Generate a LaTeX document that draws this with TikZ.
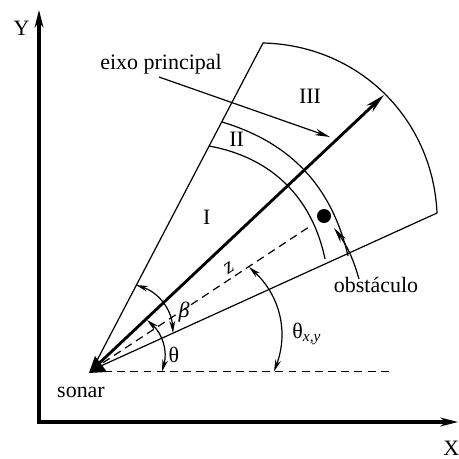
\documentclass[tikz,border=0pt]{standalone}
\usepackage{fontspec}
\setmainfont{Liberation Serif}
\usetikzlibrary{arrows.meta}

\begin{document}
\begin{tikzpicture}[scale=0.7344,
    axisline/.style={line width=1.8pt, line join=miter, {Stealth[length=8pt,width=4pt]}-{Stealth[length=8pt,width=4pt]}},
    beamline/.style={line width=0.55pt},
    guide/.style={line width=0.55pt, dash pattern=on 3.6pt off 2.4pt},
    mainaxis/.style={line width=1.3pt, -{Stealth[length=9pt,width=4pt]}},
    pointer/.style={line width=0.55pt, -{Stealth[length=7pt,width=3pt]}},
    anglearc/.style={line width=0.55pt, {Stealth[length=5.5pt,width=2.6pt]}-{Stealth[length=5.5pt,width=2.6pt]}},
    lbl/.style={inner sep=0pt, anchor=base}]
                \useasboundingbox (0,0) rectangle (10,10);

                % Axes
                \coordinate (orig) at (0.850,0.806);
                \coordinate (ytip) at (0.850,9.782);
                \coordinate (xtip) at (9.978,0.806);
                \draw[axisline] (ytip) -- (orig) -- (xtip);
                \node[lbl] (ylab) at (0.468,9.237) {Y};
                \node[lbl] (xlab) at (9.830,0.08) {X};

                % Sonar
                \coordinate (sonar) at (2.004,1.939);
                \fill (1.939,1.874) -- (2.070,2.244) -- (2.331,1.896) -- cycle;
                \node[lbl] (sonarlab) at (1.765,1.340) {sonar};
                \coordinate (hstart) at (2.266,1.906);
                \coordinate (hend) at (8.540,1.906);
                \draw[guide] (hstart) -- (hend);

                % Beam sector
                \coordinate (upper) at (5.730,9.063);
                \coordinate (lower) at (9.521,5.359);
                \draw[beamline] (sonar) -- (upper) to[bend left=43] (lower) -- cycle;
                \coordinate (in1) at (4.553,6.819);
                \coordinate (out1) at (7.081,4.357);
                \draw[beamline] (in1) to[bend left=34] (out1);
                \coordinate (in2) at (4.837,7.342);
                \coordinate (out2) at (7.582,4.423);
                \draw[beamline] (in2) to[bend left=30] (out2);
                \node[lbl] (r1) at (4.503,5.098) {I};
                \node[lbl] (r2) at (5.156,6.804) {II};
                \node[lbl] (r3) at (6.754,7.750) {III};

                % Main axis
                \coordinate (axtip) at (8.366,7.930);
                \draw[mainaxis] (sonar) -- (axtip);
                \node[lbl] (axlab) at (3.508,8.475) {eixo principal};
                \coordinate (axfrom) at (3.464,8.322);
                \coordinate (axto) at (7.190,7.015);
                \draw[pointer] (axfrom) -- (axto);

                % Obstacle
                \node[circle, fill, inner sep=0pt, minimum size=2.24mm] (obst) at (7.059,5.294) {};
                \coordinate (zend) at (6.797,5.098);
                \draw[guide] (sonar) -- (zend);
                \node[rotate=33] (zlab) at (4.989,4.161) {\textit{z}};
                \node[lbl] (obstlab) at (8.192,3.617) {obstáculo};
                \coordinate (obfrom) at (7.821,3.922);
                \coordinate (obto) at (7.277,5.033);
                \draw[pointer] (obfrom) to[bend right=10] (obto);

                % Angles
                \coordinate (th1) at (3.203,3.028);
                \coordinate (th2) at (3.529,1.906);
                \draw[anglearc] (th1) to[bend left=32] (th2);
                \node[lbl] (thlab) at (3.791,2.092) {θ};
                \coordinate (be1) at (2.963,3.791);
                \coordinate (be2) at (3.769,2.745);
                \draw[anglearc] (be1) to[bend left=34] (be2);
                \node[lbl] (belab) at (4.009,3.072) {\textit{β}};
                \coordinate (txy1) at (5.425,4.183);
                \coordinate (txy2) at (5.969,1.906);
                \draw[anglearc] (txy1) to[bend left=34] (txy2);
                \node[lbl, anchor=base west] (txylab) at (6.362,2.636) {θ\textsubscript{\textit{x,y}}};
            \end{tikzpicture}
\end{document}
